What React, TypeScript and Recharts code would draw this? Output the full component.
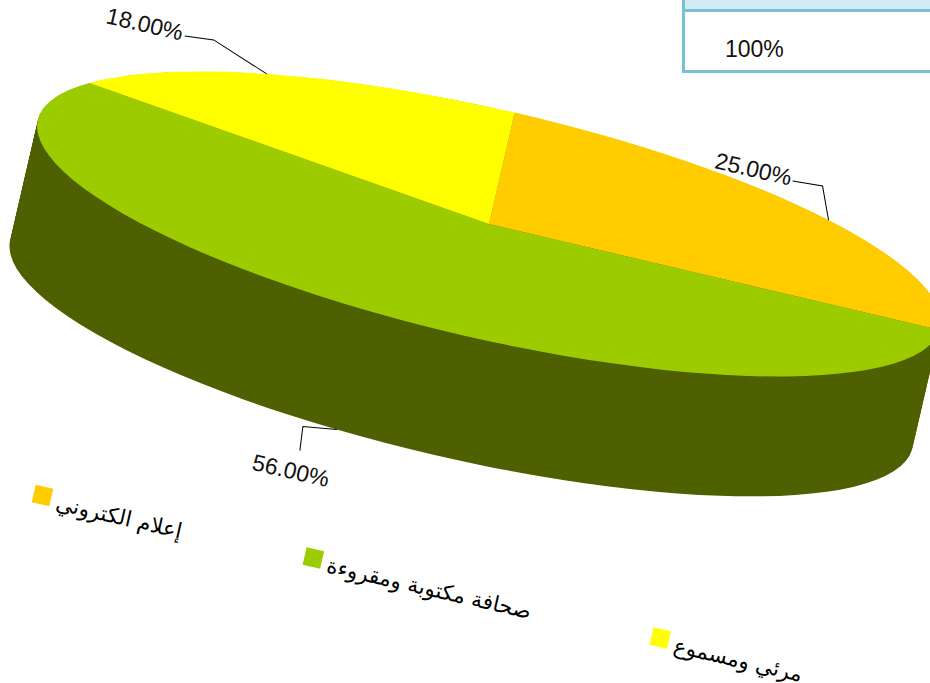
import React from 'react';
import { PieChart, Pie, Cell, Legend } from 'recharts';

const categories = ['إعلام الكتروني', 'صحافة مكتوبة ومقروءة', 'مرئي ومسموع'];
const shares = [25, 56, 18];
const shareLabels = ['25.00%', '56.00%', '18.00%'];
const tableTotal = '100%';

const topColors = ['#ffcc00', '#9ccc00', '#ffff00'];
const sideColors = ['#7f6600', '#4e6000', '#7f7f00'];

const rows = categories.map((name, i) => ({ name, share: shares[i] }));

// tilt of the disc: flattened first, then turned clockwise
const TILT = 13;
const FLATTEN = 0.247;
const RADIUS = 463;
const DEPTH = 123; // screen px
const LAYER_STEP = 2.5;
const CX = 470;
const CY = 800;
const CHART_W = 940;
const CHART_H = 2560;

const depthOffsets: number[] = [];
for (let d = DEPTH; d > 0; d -= LAYER_STEP) depthOffsets.push(d);

// leader line and text offsets from the rim point, in unflattened px
const leaders = [
  { elbow: [-13.5, -31.8], end: [-43.8, -29.9], text: [-84.6, -32.8], drop: 0 },
  { elbow: [-33.8, 4.7], end: [-31.3, 28.8], text: [-35.6, 50.3], drop: DEPTH },
  { elbow: [-59.3, -21.2], end: [-88.4, -18.6], text: [-130, -21.2], drop: 0 },
];

const renderLeader = (props: any) => {
  const { cx, cy, midAngle, index } = props;
  const rad = (-midAngle * Math.PI) / 180;
  const leader = leaders[index];
  const x = cx + RADIUS * Math.cos(rad);
  const y = cy + RADIUS * Math.sin(rad) + leader.drop / FLATTEN;
  return (
    <g transform={`translate(${x} ${y}) scale(1 ${1 / FLATTEN})`}>
      <polyline
        points={`0,0 ${leader.elbow.join(',')} ${leader.end.join(',')}`}
        fill="none"
        stroke="#000"
        strokeWidth={1}
      />
      <text
        x={leader.text[0]}
        y={leader.text[1]}
        textAnchor="middle"
        dominantBaseline="central"
        textRendering="geometricPrecision"
        fontFamily="'Liberation Sans', Arial, sans-serif"
        fontSize={23}
        fill="#111"
      >
        {shareLabels[index]}
      </text>
    </g>
  );
};

const legendSpacing = [278, 356, 200];

const renderLegend = () => (
  <div
    style={{
      display: 'flex',
      transform: `scaleY(${1 / FLATTEN})`,
      transformOrigin: '0 0',
      fontFamily: "'DejaVu Sans', serif",
      fontSize: 21.5,
      color: '#000',
    }}
  >
    {categories.map((name, i) => (
      <div key={name} style={{ width: legendSpacing[i], display: 'flex', alignItems: 'flex-start', flex: 'none' }}>
        <span style={{ width: 18, height: 18, background: topColors[i], flex: 'none' }} />
        <span dir="rtl" style={{ marginLeft: 6, marginTop: 3, whiteSpace: 'nowrap', lineHeight: '20px' }}>
          {name}
        </span>
      </div>
    ))}
  </div>
);

export default function App() {
  return (
    <div style={{ position: 'fixed', left: 0, top: 0, width: 930, height: 683, overflow: 'hidden', background: '#fff' }}>
      <div
        style={{
          position: 'absolute',
          left: 489 - CX,
          top: 224 - CY,
          transformOrigin: `${CX}px ${CY}px`,
          transform: `rotate(${TILT}deg) scaleY(${FLATTEN})`,
        }}
      >
        <PieChart width={CHART_W} height={CHART_H} margin={{ top: 0, right: 0, bottom: 0, left: 0 }}>
          {depthOffsets.map((d) => (
            <Pie
              key={d}
              data={rows}
              dataKey="share"
              nameKey="name"
              cx={CX}
              cy={CY + d / FLATTEN}
              outerRadius={RADIUS}
              startAngle={90}
              endAngle={-270}
              stroke="none"
              isAnimationActive={false}
            >
              {rows.map((r, i) => (
                <Cell key={r.name} fill={sideColors[i]} />
              ))}
            </Pie>
          ))}
          <Pie
            data={rows}
            dataKey="share"
            nameKey="name"
            cx={CX}
            cy={CY}
            outerRadius={RADIUS}
            startAngle={90}
            endAngle={-270}
            stroke="none"
            label={renderLeader}
            labelLine={false}
            isAnimationActive={false}
          >
            {rows.map((r, i) => (
              <Cell key={r.name} fill={topColors[i]} />
            ))}
          </Pie>
          <Legend
            content={renderLegend}
            width={860}
            wrapperStyle={{ left: CX - 383, top: CY + 356 / FLATTEN }}
          />
        </PieChart>
      </div>

      <div
        style={{
          position: 'absolute',
          left: 682,
          top: -3,
          width: 260,
          height: 70,
          border: '3px solid #78c0d4',
          fontFamily: "'Liberation Sans', Arial, sans-serif",
        }}
      >
        <div style={{ height: 9, background: '#d2eaf1', borderBottom: '3px solid #78c0d4' }} />
        <div style={{ position: 'absolute', left: 40, top: 36, fontSize: 23, color: '#111', lineHeight: '26px' }}>
          {tableTotal}
        </div>
      </div>
    </div>
  );
}
